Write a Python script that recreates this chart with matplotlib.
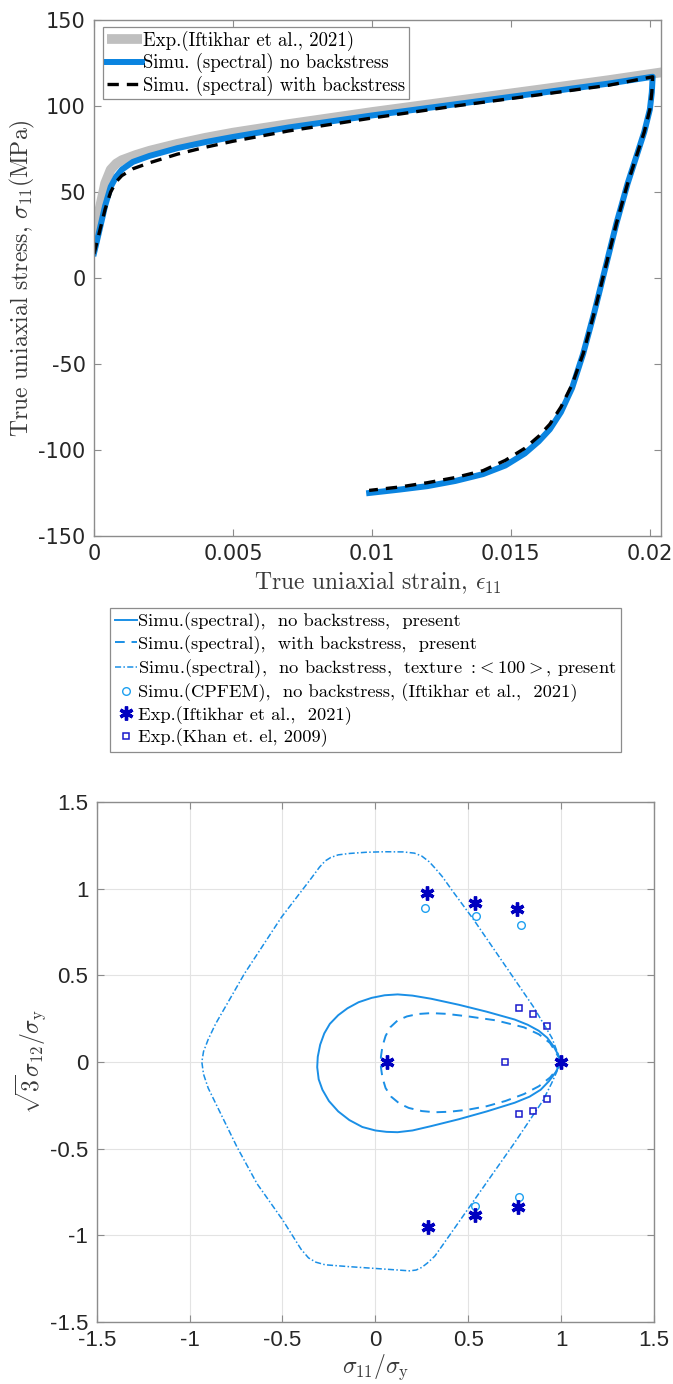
import numpy as np
import matplotlib
matplotlib.use("Agg")
import matplotlib.pyplot as plt

plt.rcParams['font.family'] = 'DejaVu Sans'
plt.rcParams['mathtext.fontset'] = 'cm'
plt.rcParams['axes.unicode_minus'] = False

# ---- uniaxial loading / unloading (MPa vs strain) ----
exp_strain = [0, 0.0002, 0.0004, 0.0006, 0.0008, 0.001, 0.0015, 0.002, 0.003, 0.004,
              0.005, 0.007, 0.01, 0.013, 0.016, 0.0185, 0.0206]
exp_stress = [24, 40, 55, 63, 66.5, 68.5, 71.5, 74, 78, 81.5,
              84.5, 89.5, 96.5, 103, 109.5, 115, 120]

load_strain = [0, 0.0002, 0.0004, 0.0006, 0.0008, 0.001, 0.0014, 0.002, 0.003, 0.004,
               0.005, 0.007, 0.01, 0.013, 0.016, 0.0185, 0.0201]
nobs_load = [14.4, 28, 42, 53, 59, 63, 67.5, 71, 75.5, 79,
             82, 87.5, 94.5, 101, 107.5, 113, 117]
bs_load = [14, 27, 40, 50, 56, 59.5, 63.5, 67, 72, 76,
           79.5, 85.5, 93, 100, 106.5, 112, 117]

unload_strain = [0.0201, 0.02007, 0.02, 0.0198, 0.0195, 0.0192, 0.0188, 0.0184, 0.0180, 0.0176,
                 0.0172, 0.0168, 0.0164, 0.0160, 0.0155, 0.0148, 0.0140, 0.0130, 0.0120,
                 0.0110, 0.0099]
nobs_unload = [117, 108, 98, 85, 70, 55, 32, 6, -20, -44,
               -64, -78, -88, -95, -102, -109, -114, -118, -121, -123, -125]
bs_unload = [117, 108, 98, 85, 70, 55, 32, 6, -20, -44,
             -62, -75, -85, -92, -99, -106, -112, -116, -119, -121.5, -123.5]

# ---- yield loci in sigma11/sy vs sqrt(3) sigma12/sy ----
nobs_x = [1.0, 0.985, 0.96, 0.925, 0.88, 0.82, 0.75, 0.6, 0.45, 0.3, 0.2, 0.12, 0.05, -0.02,
          -0.09, -0.15, -0.2, -0.245, -0.275, -0.297, -0.31, -0.313, -0.305, -0.285, -0.25,
          -0.2, -0.14, -0.07, 0.0, 0.06, 0.12, 0.2, 0.3, 0.45, 0.6, 0.75, 0.83, 0.89, 0.935,
          0.97, 1.0]
nobs_y = [0.0, 0.04, 0.09, 0.14, 0.18, 0.215, 0.245, 0.29, 0.33, 0.365, 0.383, 0.39, 0.385,
          0.37, 0.345, 0.31, 0.27, 0.22, 0.165, 0.1, 0.03, -0.03, -0.1, -0.16, -0.225,
          -0.285, -0.335, -0.375, -0.395, -0.403, -0.405, -0.395, -0.37, -0.33, -0.285,
          -0.235, -0.2, -0.16, -0.11, -0.06, 0.0]

bs_x = [1.0, 0.975, 0.94, 0.88, 0.8, 0.65, 0.5, 0.38, 0.3, 0.23, 0.17, 0.12, 0.08, 0.055,
        0.038, 0.03, 0.03, 0.038, 0.055, 0.085, 0.13, 0.18, 0.25, 0.32, 0.4, 0.5, 0.6, 0.7,
        0.8, 0.88, 0.94, 0.975, 1.0]
bs_y = [0.0, 0.05, 0.11, 0.16, 0.2, 0.24, 0.263, 0.278, 0.282, 0.277, 0.263, 0.24, 0.2, 0.15,
        0.09, 0.03, -0.03, -0.09, -0.15, -0.2, -0.24, -0.265, -0.283, -0.29, -0.287, -0.275,
        -0.255, -0.225, -0.185, -0.14, -0.09, -0.045, 0.0]

tex_x = [1.0, 0.975, 0.95, 0.85, 0.69, 0.53, 0.42, 0.36, 0.32, 0.29, 0.25, 0.21, 0.15, 0.05,
         -0.05, -0.14, -0.2, -0.24, -0.27, -0.3, -0.345, -0.505, -0.705, -0.86, -0.9, -0.925,
         -0.934, -0.925, -0.9, -0.745, -0.637, -0.498, -0.4, -0.36, -0.32, -0.27, -0.15,
         0.012, 0.12, 0.185, 0.22, 0.25, 0.28, 0.32, 0.36, 0.544, 0.752, 0.903, 0.95, 0.975,
         1.0]
tex_y = [0.0, 0.07, 0.14, 0.32, 0.57, 0.82, 0.98, 1.07, 1.12, 1.155, 1.188, 1.205, 1.212,
         1.213, 1.21, 1.203, 1.195, 1.18, 1.16, 1.125, 1.06, 0.836, 0.509, 0.22, 0.13, 0.06,
         0.0, -0.07, -0.15, -0.49, -0.702, -0.913, -1.08, -1.13, -1.155, -1.17, -1.18,
         -1.192, -1.2, -1.205, -1.2, -1.185, -1.16, -1.12, -1.06, -0.779, -0.462, -0.221,
         -0.12, -0.06, 0.0]

cpfem_x = [0.267, 0.541, 0.782, 0.539, 0.771]
cpfem_y = [0.89, 0.842, 0.79, -0.829, -0.779]

iftikhar_x = [0.064, 1.0, 0.279, 0.537, 0.764, 0.282, 0.537, 0.766]
iftikhar_y = [0.0, 0.0, 0.977, 0.917, 0.881, -0.952, -0.881, -0.837]

khan_x = [0.772, 0.846, 0.922, 0.697, 0.922, 0.846, 0.772]
khan_y = [0.314, 0.277, 0.206, 0.0, -0.216, -0.285, -0.301]

W, H = 673, 1384
fig = plt.figure(figsize=(W / 100, H / 100), dpi=100)

serif = 'cmr10'
tick_col = '#262626'
label_col = '#3a3a3a'
frame_col = '#8c8c8c'
blue = '#0a84e0'
lblue = '#1a8fe6'

def style_axes(ax, fs, family):
    for s in ax.spines.values():
        s.set_color(frame_col)
        s.set_linewidth(1.0)
    ax.tick_params(direction='in', length=5, width=0.8, color=frame_col,
                   top=True, right=True, labelsize=fs, labelcolor=tick_col, pad=6,
                   labelfontfamily=family)

# top: stress-strain
ax1 = fig.add_axes([94 / W, 1 - 536 / H, 567 / W, 516 / H])
ax1.plot(exp_strain, exp_stress, color='#bfbfbf', lw=7, solid_capstyle='butt',
         label='Exp.(Iftikhar et al., 2021)')
ax1.plot(load_strain + unload_strain, nobs_load + nobs_unload, color=blue, lw=4.3,
         label='Simu. (spectral) no backstress')
ax1.plot(load_strain + unload_strain, bs_load + bs_unload, color='black', lw=2.4,
         ls=(0, (3.4, 2.4)), label='Simu. (spectral) with backstress')
ax1.set_xlim(0, 0.0204)
ax1.set_ylim(-150, 150)
ax1.set_xticks([0, 0.005, 0.01, 0.015, 0.02])
ax1.set_xticklabels(['0', '0.005', '0.01', '0.015', '0.02'])
ax1.set_yticks([-150, -100, -50, 0, 50, 100, 150])
style_axes(ax1, 15, 'DejaVu Sans')
ax1.set_xlabel(r'True uniaxial strain, $\epsilon_{11}$', fontfamily=serif, fontsize=17,
               color=label_col, labelpad=4)
ax1.set_ylabel(r'True uniaxial stress, $\sigma_{11}$(MPa)', fontfamily=serif, fontsize=17,
               color=label_col)
ax1.yaxis.set_label_coords(-0.1, 0.5)
leg1 = ax1.legend(loc='upper left', bbox_to_anchor=(0.0158, 0.9864), borderaxespad=0,
                  prop={'family': serif, 'size': 13.5}, handlelength=1.9, handletextpad=0.05,
                  labelspacing=0.12, borderpad=0.2, fancybox=False, framealpha=1)
leg1.get_frame().set_edgecolor(frame_col)
leg1.get_frame().set_linewidth(0.9)

# bottom: yield loci
ax2 = fig.add_axes([96.7 / W, 1 - 1322 / H, 557.3 / W, 520 / H])
h1, = ax2.plot(nobs_x, nobs_y, color=lblue, lw=1.4,
               label=r'Simu.(spectral),  no backstress,  present')
h2, = ax2.plot(bs_x, bs_y, color=lblue, lw=1.4, ls=(0, (5, 3.5)),
               label=r'Simu.(spectral),  with backstress,  present')
h3, = ax2.plot(tex_x, tex_y, color=lblue, lw=1.1, ls=(0, (4, 1.5, 1, 1.5)),
               label=r'Simu.(spectral),  no backstress,  texture $:\!<100>$, present')
h4, = ax2.plot(cpfem_x, cpfem_y, ls='none', marker='o', ms=5.5, mfc='none', mec='#1ea0f0',
               mew=1.0, label=r'Simu.(CPFEM),  no backstress, (Iftikhar et al.,  2021)')
h5, = ax2.plot(iftikhar_x, iftikhar_y, ls='none', marker=(6, 2, 0), ms=10, mec='#0000c0',
               mew=2.4, label=r'Exp.(Iftikhar et al.,  2021)')
h6, = ax2.plot(khan_x, khan_y, ls='none', marker='s', ms=5, mfc='none', mec='#1a1acc',
               mew=1.1, label=r'Exp.(Khan et. el, 2009)')
ax2.set_xlim(-1.5, 1.5)
ax2.set_ylim(-1.5, 1.5)
ax2.set_xticks(np.arange(-1.5, 1.51, 0.5))
ax2.set_yticks(np.arange(-1.5, 1.51, 0.5))
ax2.set_xticklabels(['-1.5', '-1', '-0.5', '0', '0.5', '1', '1.5'])
ax2.set_yticklabels(['-1.5', '-1', '-0.5', '0', '0.5', '1', '1.5'])
ax2.grid(True, color='#e3e3e3', lw=0.8)
ax2.set_axisbelow(True)
style_axes(ax2, 16, 'Liberation Sans')
ax2.set_xlabel(r'$\sigma_{11}/\sigma_{\mathrm{y}}$', fontsize=17, color=label_col)
ax2.xaxis.set_label_coords(0.5, -0.058)
ax2.set_ylabel(r'$\sqrt{3}\sigma_{12}/\sigma_{\mathrm{y}}$', fontsize=17, color=label_col)
ax2.yaxis.set_label_coords(-0.088, 0.5)

leg2 = fig.legend(handles=[h1, h2, h3, h4, h5, h6], loc='upper left',
                  bbox_to_anchor=(110 / W, 1 - 608 / H), borderaxespad=0,
                  prop={'family': serif, 'size': 13.3}, handlelength=1.2, handletextpad=0.05,
                  labelspacing=0.2, borderpad=0.25, fancybox=False, framealpha=1)
leg2.get_frame().set_edgecolor(frame_col)
leg2.get_frame().set_linewidth(0.9)

fig.savefig('out.png', dpi=100)
